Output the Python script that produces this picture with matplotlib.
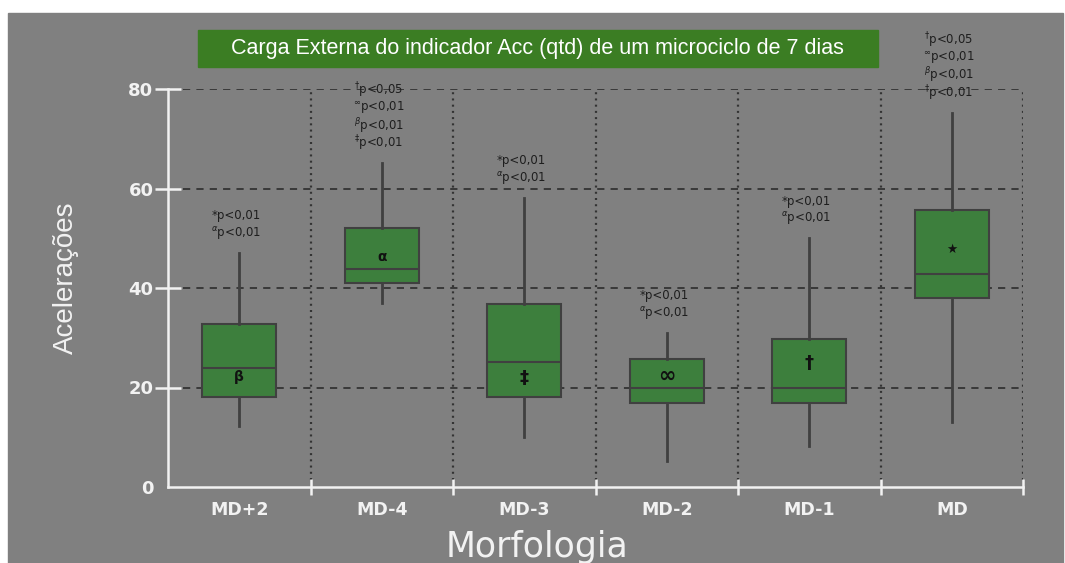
import matplotlib
matplotlib.use("Agg")
import matplotlib.pyplot as plt
from matplotlib.patches import Rectangle

# ---------------- data ----------------
categories = ["MD+2", "MD-4", "MD-3", "MD-2", "MD-1", "MD"]
whisker_low = [12.3, 37.0, 10.1, 5.2, 8.2, 13.1]
q1_values = [18.1, 41.0, 18.1, 16.9, 16.9, 38.0]
medians = [23.9, 43.8, 25.1, 20.0, 20.0, 42.8]
q3_values = [32.8, 52.0, 36.8, 25.8, 29.8, 55.7]
whisker_high = [47.0, 65.1, 58.1, 31.0, 50.0, 75.2]
mean_values = [22.1, 46.2, 22.0, 22.3, 25.0, 47.8]
mean_symbols = ["β", "α", "‡", "∞", "†", "★"]
sig_labels = [
    ["*p<0,01", r"$^{\alpha}$p<0,01"],
    [r"$^{\dagger}$p<0,05", r"$^{\infty}$p<0,01", r"$^{\beta}$p<0,01", r"$^{\ddagger}$p<0,01"],
    ["*p<0,01", r"$^{\alpha}$p<0,01"],
    ["*p<0,01", r"$^{\alpha}$p<0,01"],
    ["*p<0,01", r"$^{\alpha}$p<0,01"],
    [r"$^{\dagger}$p<0,05", r"$^{\infty}$p<0,01", r"$^{\beta}$p<0,01", r"$^{\ddagger}$p<0,01"],
]
y_ticks = [0, 20, 40, 60, 80]
title = "Carga Externa do indicador Acc (qtd) de um microciclo de 7 dias"
x_label = "Morfologia"
y_label = "Acelerações"

# ---------------- style ----------------
W, H = 1065, 563
BG = "#808080"
GREEN_BOX = "#3d7f3d"
GREEN_TITLE = "#3b7d23"
EDGE = "#404040"
GRID = "#333333"
WHITE = "#f2f2f2"
narrow = ["Liberation Sans", "DejaVu Sans"]

fig = plt.figure(figsize=(W / 100, H / 100), dpi=100)
fig.patch.set_facecolor("white")
fig.patches.append(Rectangle((8 / W, 0), (1063 - 8) / W, (H - 13) / H,
                             transform=fig.transFigure, color=BG, zorder=-10))

ax = fig.add_axes([168 / W, (H - 487) / H, (1023 - 168) / W, (487 - 89) / H])
ax.set_facecolor("none")
n = len(categories)

# boxes
stats = []
for i in range(n):
    stats.append(dict(whislo=whisker_low[i], q1=q1_values[i], med=medians[i],
                      q3=q3_values[i], whishi=whisker_high[i], fliers=[]))
ax.bxp(stats, positions=list(range(n)), widths=0.52, patch_artist=True,
       showfliers=False, showcaps=False, manage_ticks=False,
       boxprops=dict(facecolor=GREEN_BOX, edgecolor=EDGE, linewidth=1.5),
       whiskerprops=dict(color=EDGE, linewidth=2),
       medianprops=dict(color=EDGE, linewidth=1.5),
       zorder=3)

ax.set_xlim(-0.5, n - 0.5)
ax.set_ylim(0, 80)

for s in ["top", "right"]:
    ax.spines[s].set_visible(False)
for s in ["left", "bottom"]:
    ax.spines[s].set_color(WHITE)
    ax.spines[s].set_linewidth(1.8)

# grid
x0 = -0.5 + 15 / 142.5
ax.hlines([20, 40, 60, 80], x0, n - 0.5, colors=GRID, linewidth=1.3,
          linestyles=(0, (4.0, 3.4)), zorder=1)
seps = [i + 0.5 for i in range(n)]
ax.vlines(seps, 1.5, 80, colors=GRID, linewidth=1.6,
          linestyles=(0, (0.9, 1.9)), zorder=1)

# ticks
ax.set_yticks(y_ticks)
ax.set_yticklabels([str(v) for v in y_ticks])
ax.tick_params(axis="y", direction="inout", length=19, width=1.8, color=WHITE,
               labelcolor=WHITE, labelsize=13, pad=1)
ax.yaxis.get_major_ticks()[0].tick1line.set_visible(False)
for lab in ax.get_yticklabels():
    lab.set_fontweight("bold")

ax.set_xticks(range(n))
ax.set_xticklabels(categories)
ax.set_xticks(seps, minor=True)
ax.tick_params(axis="x", which="major", length=0, labelcolor=WHITE,
               labelsize=12.5, pad=10)
ax.tick_params(axis="x", which="minor", direction="inout", length=12,
               width=1.8, color=WHITE)
for lab in ax.get_xticklabels():
    lab.set_fontweight("bold")

sym_sizes = {"β": 10, "α": 10, "‡": 13, "∞": 15, "†": 13, "★": 9}
for i in range(n):
    s = mean_symbols[i]
    ax.text(i, mean_values[i], s, ha="center", va="center",
            fontsize=sym_sizes[s], fontweight="bold", color="#111111", zorder=5)

# significance labels
for i in range(n):
    lines = sig_labels[i]
    for k, line in enumerate(reversed(lines)):
        ax.annotate(line, xy=(i, whisker_high[i]),
                    xytext=(-2, 14 + k * 12.8), textcoords="offset points",
                    ha="center", va="center", fontsize=8.5, color="#1e1e1e",
                    annotation_clip=False, zorder=5)

# title box
fig.patches.append(Rectangle((198 / W, (H - 67) / H), (878 - 198) / W, 37 / H,
                             transform=fig.transFigure, color=GREEN_TITLE, zorder=-5))
fig.text(537 / W, 1 - 48.5 / H, title, ha="center", va="center", color="white",
         fontsize=15.5, family=narrow)

fig.text(537 / W, 1 - 547 / H, x_label, ha="center", va="center", color=WHITE,
         fontsize=25)
fig.text(66 / W, 1 - 278 / H, y_label, ha="center", va="center", color=WHITE,
         fontsize=20, rotation=90, family=narrow)

fig.savefig("out.png", dpi=100, facecolor=fig.get_facecolor())
